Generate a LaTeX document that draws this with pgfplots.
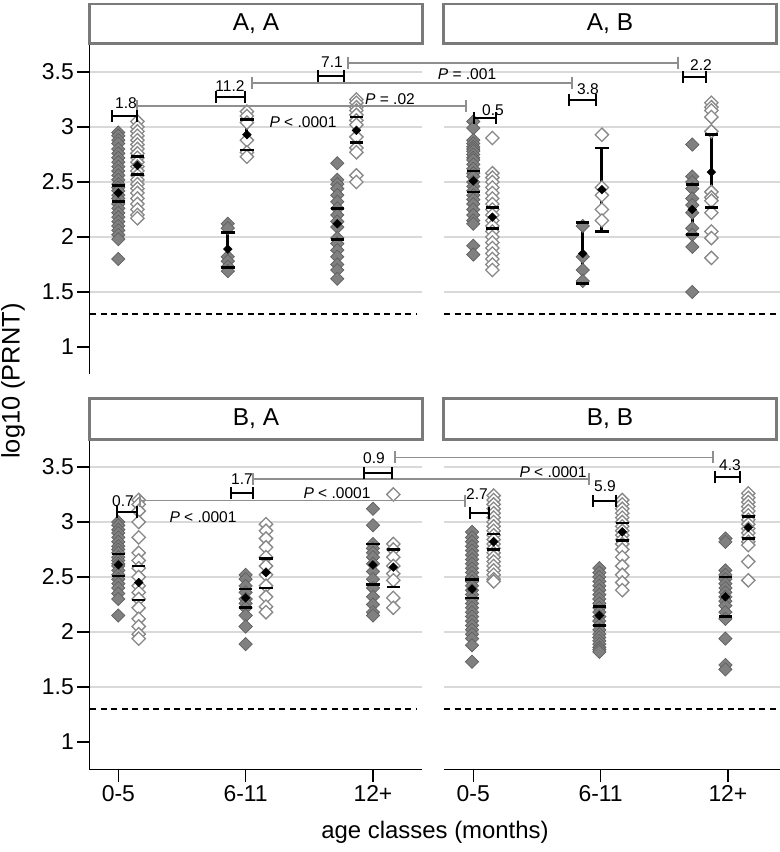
\documentclass[border=0pt]{standalone}
\usepackage{pgfplots}
\usepackage{pgfplotstable}
\pgfplotsset{compat=1.18}
\usepackage{fontspec}
\setmainfont{Liberation Sans}
\definecolor{gfill}{HTML}{808080}
\definecolor{gedge}{HTML}{606060}
\definecolor{oedge}{HTML}{888888}
\definecolor{gridc}{HTML}{D9D9D9}
\definecolor{annc}{HTML}{8F8F8F}
\definecolor{stripc}{HTML}{7A7A7A}
\newcommand{\tkfont}{\fontsize{23}{27}\selectfont}
\newcommand{\anfont}{\fontsize{15.6}{18}\selectfont}
\newcommand{\stfont}{\fontsize{24.5}{28}\selectfont}
% means with 95% CI (x mean lo hi)
\pgfplotstableread[row sep=\\]{
x y lo hi\\
1 2.40 2.32 2.47\\
1.15 2.65 2.57 2.73\\
1.86 1.89 1.72 2.04\\
2.01 2.93 2.79 3.07\\
2.72 2.12 1.98 2.26\\
2.87 2.97 2.86 3.09\\
}\meanAA
\pgfplotstableread[row sep=\\]{
x y lo hi\\
1 2.51 2.41 2.60\\
1.15 2.18 2.08 2.27\\
1.86 1.85 1.58 2.13\\
2.01 2.43 2.05 2.81\\
2.72 2.25 2.02 2.48\\
2.87 2.59 2.27 2.93\\
}\meanAB
\pgfplotstableread[row sep=\\]{
x y lo hi\\
1 2.61 2.51 2.71\\
1.16 2.45 2.29 2.60\\
2 2.31 2.22 2.39\\
2.16 2.54 2.40 2.67\\
3 2.61 2.43 2.80\\
3.16 2.59 2.41 2.75\\
}\meanBA
\pgfplotstableread[row sep=\\]{
x y lo hi\\
0.99 2.39 2.31 2.48\\
1.16 2.82 2.75 2.89\\
1.99 2.15 2.06 2.23\\
2.17 2.91 2.83 2.99\\
2.98 2.32 2.14 2.50\\
3.16 2.95 2.85 3.05\\
}\meanBB
\pgfplotsset{
  panel/.style={scale only axis, anchor=south west, height=330bp,
    ymin=0.75, ymax=3.75,
    axis lines*=left, axis line style={line width=1.4bp, black},
    tick align=outside, major tick length=12bp,
    tick style={line width=1.3bp, black},
    ytick={1.5,2,2.5,3,3.5}, ymajorgrids,
    major grid style={gridc, line width=1.1bp},
    xtick={1,2,3}, xticklabels={0-5,6-11,12+},
    ticklabel style={font=\tkfont},
    /pgf/number format/assume math mode=true,
  },
  leftpanel/.style={panel, width=332.4bp, xmin=0.772, xmax=3.383,
    extra y ticks={1}, extra y tick style={grid=none}},
  rightpanel/.style={panel, width=336bp, xmin=0.77, xmax=3.409,
    yticklabels={}, y axis line style={draw=none}, y tick style={draw=none}},
  toppanel/.style={xtick=\empty, x axis line style={draw=none}},
  gpts/.style={only marks, mark=square*, mark size=4.7bp,
    mark options={rotate=45, fill=gfill, draw=gedge, line width=0.7bp}},
  opts/.style={only marks, mark=square*, mark size=4.7bp,
    mark options={rotate=45, fill=white, draw=oedge, line width=1.3bp}},
  vbar/.style={black, line width=3bp, mark=none, unbounded coords=jump},
  cap/.style={only marks, mark=-, mark size=6.7bp,
    mark options={draw=black, line width=2.7bp}},
  mpts/.style={only marks, mark=square*, mark size=3.1bp,
    mark options={rotate=45, fill=black, draw=black}},
  thr/.style={black, line width=1.8bp, dash pattern=on 6bp off 4.5bp},
  brk/.style={draw=none, mark=none,
    error bars/x dir=both, error bars/x explicit,
    error bars/error bar style={draw=black, line width=1.9bp},
    error bars/error mark options={rotate=90, draw=black, line width=1.9bp, mark size=6bp}},
  gln/.style={draw=none, mark=none,
    error bars/x dir=both, error bars/x explicit,
    error bars/error bar style={draw=annc, line width=1.3bp},
    error bars/error mark options={rotate=90, draw=annc, line width=1.3bp, mark size=6bp}},
}
% caps and black mean diamond
\newcommand{\meanci}[1]{%
  \addplot[cap] table[x=x, y=hi] {#1};
  \addplot[cap] table[x=x, y=lo] {#1};
  \addplot[mpts] table[x=x, y=y] {#1};
}
\begin{document}
\begin{tikzpicture}[x=1bp,y=1bp]
% ---------------- A, A ----------------
\begin{axis}[leftpanel, toppanel, at={(89.3bp,477.5bp)}]
\addplot[gpts] coordinates {(1,2.95)(1,2.92)(1,2.88)(1,2.85)(1,2.80)(1,2.76)(1,2.72)(1,2.68)(1,2.64)(1,2.60)(1,2.56)(1,2.52)(1,2.48)(1,2.45)(1,2.42)(1,2.38)(1,2.35)(1,2.30)(1,2.26)(1,2.22)(1,2.18)(1,2.14)(1,2.10)(1,2.06)(1,2.02)(1,1.98)(1,1.80)};
\addplot[opts] coordinates {(1.15,3.05)(1.15,3.00)(1.15,2.96)(1.15,2.92)(1.15,2.88)(1.15,2.84)(1.15,2.80)(1.15,2.76)(1.15,2.72)(1.15,2.68)(1.15,2.64)(1.15,2.60)(1.15,2.56)(1.15,2.52)(1.15,2.48)(1.15,2.44)(1.15,2.40)(1.15,2.35)(1.15,2.30)(1.15,2.25)(1.15,2.20)(1.15,2.17)};
\addplot[gpts] coordinates {(1.86,2.12)(1.86,2.08)(1.86,1.82)(1.86,1.78)(1.86,1.73)(1.86,1.69)};
\addplot[opts] coordinates {(2.01,3.14)(2.01,3.10)(2.01,3.04)(2.01,2.88)(2.01,2.77)(2.01,2.73)};
\addplot[gpts] coordinates {(2.72,2.67)(2.72,2.52)(2.72,2.48)(2.72,2.44)(2.72,2.38)(2.72,2.32)(2.72,2.26)(2.72,2.20)(2.72,2.14)(2.72,2.09)(2.72,1.99)(2.72,1.94)(2.72,1.88)(2.72,1.82)(2.72,1.75)(2.72,1.70)(2.72,1.62)};
\addplot[opts] coordinates {(2.87,3.25)(2.87,3.22)(2.87,3.18)(2.87,3.15)(2.87,3.11)(2.87,3.06)(2.87,3.02)(2.87,2.91)(2.87,2.81)(2.87,2.77)(2.87,2.56)(2.87,2.50)};
\addplot[vbar] coordinates {(1,2.32)(1,2.47)(1,nan)(1.15,2.57)(1.15,2.73)(1.15,nan)(1.86,1.72)(1.86,2.04)(1.86,nan)(2.01,2.79)(2.01,3.07)(2.01,nan)(2.72,1.98)(2.72,2.26)(2.72,nan)(2.87,2.86)(2.87,3.09)};
\meanci{\meanAA}
\addplot[thr] coordinates {(0.78,1.3)(3.34,1.3)};
\end{axis}
% ---------------- A, B ----------------
\begin{axis}[rightpanel, toppanel, at={(444bp,477.5bp)}]
\addplot[gpts] coordinates {(1,3.05)(1,2.99)(1,2.88)(1,2.85)(1,2.82)(1,2.80)(1,2.78)(1,2.75)(1,2.72)(1,2.70)(1,2.66)(1,2.62)(1,2.58)(1,2.55)(1,2.50)(1,2.46)(1,2.42)(1,2.38)(1,2.34)(1,2.30)(1,2.25)(1,2.20)(1,2.15)(1,2.12)(1,1.92)(1,1.84)};
\addplot[opts] coordinates {(1.15,2.90)(1.15,2.58)(1.15,2.54)(1.15,2.50)(1.15,2.45)(1.15,2.40)(1.15,2.35)(1.15,2.30)(1.15,2.25)(1.15,2.20)(1.15,2.15)(1.15,2.10)(1.15,2.05)(1.15,2.00)(1.15,1.95)(1.15,1.90)(1.15,1.85)(1.15,1.80)(1.15,1.75)(1.15,1.70)};
\addplot[gpts] coordinates {(1.86,2.10)(1.86,1.82)(1.86,1.70)(1.86,1.60)};
\addplot[opts] coordinates {(2.01,2.93)(2.01,2.45)(2.01,2.38)(2.01,2.25)(2.01,2.15)};
\addplot[gpts] coordinates {(2.72,2.84)(2.72,2.55)(2.72,2.50)(2.72,2.44)(2.72,2.35)(2.72,2.29)(2.72,2.22)(2.72,2.08)(2.72,2.02)(2.72,1.91)(2.72,1.50)};
\addplot[opts] coordinates {(2.87,3.22)(2.87,3.18)(2.87,3.15)(2.87,3.09)(2.87,2.96)(2.87,2.41)(2.87,2.36)(2.87,2.33)(2.87,2.22)(2.87,2.05)(2.87,1.99)(2.87,1.81)};
\addplot[vbar] coordinates {(1,2.41)(1,2.60)(1,nan)(1.15,2.08)(1.15,2.27)(1.15,nan)(1.86,1.58)(1.86,2.13)(1.86,nan)(2.01,2.05)(2.01,2.81)(2.01,nan)(2.72,2.02)(2.72,2.48)(2.72,nan)(2.87,2.27)(2.87,2.93)};
\meanci{\meanAB}
\addplot[thr] coordinates {(0.77,1.3)(3.405,1.3)};
\end{axis}
% ---------------- B, A ----------------
\begin{axis}[leftpanel, at={(89.3bp,82.5bp)}]
\addplot[gpts] coordinates {(1,3.00)(1,2.97)(1,2.93)(1,2.90)(1,2.86)(1,2.82)(1,2.78)(1,2.75)(1,2.72)(1,2.68)(1,2.65)(1,2.62)(1,2.60)(1,2.56)(1,2.52)(1,2.48)(1,2.44)(1,2.40)(1,2.35)(1,2.30)(1,2.15)};
\addplot[opts] coordinates {(1.16,3.20)(1.16,3.16)(1.16,3.10)(1.16,3.00)(1.16,2.86)(1.16,2.72)(1.16,2.65)(1.16,2.58)(1.16,2.50)(1.16,2.42)(1.16,2.36)(1.16,2.30)(1.16,2.22)(1.16,2.12)(1.16,2.05)(1.16,1.98)(1.16,1.94)};
\addplot[gpts] coordinates {(2,2.52)(2,2.48)(2,2.42)(2,2.36)(2,2.30)(2,2.26)(2,2.22)(2,2.15)(2,2.05)(2,1.89)};
\addplot[opts] coordinates {(2.16,2.98)(2.16,2.92)(2.16,2.85)(2.16,2.77)(2.16,2.68)(2.16,2.60)(2.16,2.52)(2.16,2.42)(2.16,2.32)(2.16,2.23)(2.16,2.18)};
\addplot[gpts] coordinates {(3,3.12)(3,2.97)(3,2.80)(3,2.76)(3,2.72)(3,2.68)(3,2.62)(3,2.55)(3,2.48)(3,2.40)(3,2.32)(3,2.25)(3,2.18)(3,2.15)};
\addplot[opts] coordinates {(3.16,3.25)(3.16,2.80)(3.16,2.75)(3.16,2.68)(3.16,2.60)(3.16,2.53)(3.16,2.47)(3.16,2.31)(3.16,2.22)};
\addplot[vbar] coordinates {(1,2.51)(1,2.71)(1,nan)(1.16,2.29)(1.16,2.60)(1.16,nan)(2,2.22)(2,2.39)(2,nan)(2.16,2.40)(2.16,2.67)(2.16,nan)(3,2.43)(3,2.80)(3,nan)(3.16,2.41)(3.16,2.75)};
\meanci{\meanBA}
\addplot[thr] coordinates {(0.78,1.3)(3.34,1.3)};
\end{axis}
% ---------------- B, B ----------------
\begin{axis}[rightpanel, at={(444bp,82.5bp)}]
\addplot[gpts] coordinates {(0.99,2.91)(0.99,2.86)(0.99,2.82)(0.99,2.78)(0.99,2.74)(0.99,2.70)(0.99,2.66)(0.99,2.62)(0.99,2.58)(0.99,2.54)(0.99,2.50)(0.99,2.46)(0.99,2.42)(0.99,2.38)(0.99,2.34)(0.99,2.30)(0.99,2.26)(0.99,2.22)(0.99,2.18)(0.99,2.14)(0.99,2.10)(0.99,2.06)(0.99,2.02)(0.99,1.98)(0.99,1.94)(0.99,1.88)(0.99,1.73)};
\addplot[opts] coordinates {(1.16,3.24)(1.16,3.20)(1.16,3.16)(1.16,3.12)(1.16,3.08)(1.16,3.04)(1.16,3.00)(1.16,2.96)(1.16,2.92)(1.16,2.88)(1.16,2.84)(1.16,2.80)(1.16,2.76)(1.16,2.72)(1.16,2.68)(1.16,2.64)(1.16,2.60)(1.16,2.56)(1.16,2.52)(1.16,2.48)(1.16,2.46)};
\addplot[gpts] coordinates {(1.99,2.58)(1.99,2.54)(1.99,2.50)(1.99,2.46)(1.99,2.42)(1.99,2.38)(1.99,2.34)(1.99,2.30)(1.99,2.26)(1.99,2.22)(1.99,2.18)(1.99,2.14)(1.99,2.10)(1.99,2.06)(1.99,2.02)(1.99,1.98)(1.99,1.95)(1.99,1.92)(1.99,1.89)(1.99,1.86)(1.99,1.84)(1.99,1.82)};
\addplot[opts] coordinates {(2.17,3.20)(2.17,3.16)(2.17,3.12)(2.17,3.08)(2.17,3.04)(2.17,3.00)(2.17,2.96)(2.17,2.92)(2.17,2.88)(2.17,2.84)(2.17,2.80)(2.17,2.75)(2.17,2.68)(2.17,2.60)(2.17,2.52)(2.17,2.45)(2.17,2.38)};
\addplot[gpts] coordinates {(2.98,2.85)(2.98,2.82)(2.98,2.56)(2.98,2.52)(2.98,2.48)(2.98,2.44)(2.98,2.40)(2.98,2.36)(2.98,2.32)(2.98,2.28)(2.98,2.24)(2.98,2.18)(2.98,2.12)(2.98,1.94)(2.98,1.70)(2.98,1.66)};
\addplot[opts] coordinates {(3.16,3.26)(3.16,3.22)(3.16,3.18)(3.16,3.14)(3.16,3.10)(3.16,3.06)(3.16,3.02)(3.16,2.98)(3.16,2.94)(3.16,2.90)(3.16,2.86)(3.16,2.82)(3.16,2.79)(3.16,2.64)(3.16,2.47)};
\addplot[vbar] coordinates {(0.99,2.31)(0.99,2.48)(0.99,nan)(1.16,2.75)(1.16,2.89)(1.16,nan)(1.99,2.06)(1.99,2.23)(1.99,nan)(2.17,2.83)(2.17,2.99)(2.17,nan)(2.98,2.14)(2.98,2.50)(2.98,nan)(3.16,2.85)(3.16,3.05)};
\meanci{\meanBB}
\addplot[thr] coordinates {(0.77,1.3)(3.405,1.3)};
\end{axis}
% ---------------- overlay (image pixel coordinates) ----------------
\begin{axis}[at={(0bp,0bp)}, anchor=south west, scale only axis,
  width=780bp, height=852bp, xmin=0, xmax=780, ymin=0, ymax=852,
  y dir=reverse, hide axis, clip=false]
% strip boxes
\draw[stripc, line width=2.7bp, fill=white] (axis cs:89.3,4) rectangle (axis cs:422.7,43.3);
\draw[stripc, line width=2.7bp, fill=white] (axis cs:443.3,4) rectangle (axis cs:776.7,43.3);
\draw[stripc, line width=2.7bp, fill=white] (axis cs:89.3,398.3) rectangle (axis cs:422.7,439.3);
\draw[stripc, line width=2.7bp, fill=white] (axis cs:443.3,398.3) rectangle (axis cs:776.7,439.3);
\node[font=\stfont] at (axis cs:256,24) {A, A};
\node[font=\stfont] at (axis cs:610,24) {A, B};
\node[font=\stfont] at (axis cs:256,419) {B, A};
\node[font=\stfont] at (axis cs:610,419) {B, B};
% long grey comparison lines
\addplot[gln] coordinates {(513,63) +- (165,0)};
\addplot[gln] coordinates {(412,83) +- (160,0)};
\addplot[gln] coordinates {(301.5,106) +- (164.5,0)};
\addplot[gln] coordinates {(554,457.3) +- (159,0)};
\addplot[gln] coordinates {(421,479) +- (168,0)};
\addplot[gln] coordinates {(302.5,500.7) +- (162.5,0)};
% black brackets
\addplot[brk] coordinates {(124.5,116) +- (12.5,0)};
\addplot[brk] coordinates {(230.5,97) +- (14.5,0)};
\addplot[brk] coordinates {(331,76) +- (13,0)};
\addplot[brk] coordinates {(485,118) +- (11,0)};
\addplot[brk] coordinates {(582.5,100) +- (13.5,0)};
\addplot[brk] coordinates {(694.5,77) +- (11.5,0)};
\addplot[brk] coordinates {(127,511.7) +- (10,0)};
\addplot[brk] coordinates {(242,492.7) +- (11,0)};
\addplot[brk] coordinates {(378,473.3) +- (14,0)};
\addplot[brk] coordinates {(479.7,512.7) +- (9.7,0)};
\addplot[brk] coordinates {(604.5,500.7) +- (11.2,0)};
\addplot[brk] coordinates {(727.5,477.3) +- (12.5,0)};
% labels
\node[font=\anfont, inner sep=0] at (axis cs:126,103.5) {1.8};
\node[font=\anfont, inner sep=0] at (axis cs:230,86.5) {11.2};
\node[font=\anfont, inner sep=0] at (axis cs:332,62) {7.1};
\node[font=\anfont, inner sep=0] at (axis cs:493,110) {0.5};
\node[font=\anfont, inner sep=0] at (axis cs:588,89) {3.8};
\node[font=\anfont, inner sep=0] at (axis cs:701,65) {2.2};
\node[font=\anfont, inner sep=0] at (axis cs:303,122) {\textit{P} < .0001};
\node[font=\anfont, inner sep=0] at (axis cs:390,99) {\textit{P} = .02};
\node[font=\anfont, inner sep=0] at (axis cs:467,74) {\textit{P} = .001};
\node[font=\anfont, inner sep=0] at (axis cs:123,501) {0.7};
\node[font=\anfont, inner sep=0] at (axis cs:242,479) {1.7};
\node[font=\anfont, inner sep=0] at (axis cs:374,458) {0.9};
\node[font=\anfont, inner sep=0] at (axis cs:477,494) {2.7};
\node[font=\anfont, inner sep=0] at (axis cs:605,486) {5.9};
\node[font=\anfont, inner sep=0] at (axis cs:730,465) {4.3};
\node[font=\anfont, inner sep=0] at (axis cs:203,517) {\textit{P} < .0001};
\node[font=\anfont, inner sep=0] at (axis cs:337,493) {\textit{P} < .0001};
\node[font=\anfont, inner sep=0] at (axis cs:553,472) {\textit{P} < .0001};
% axis titles
\node[font=\fontsize{25.5}{30}\selectfont, rotate=90] at (axis cs:13,381) {log10 (PRNT)};
\node[font=\fontsize{24}{28}\selectfont] at (axis cs:435,832) {age classes (months)};
\end{axis}
\pgfresetboundingbox
\useasboundingbox (0,0) rectangle (780,852);
\end{tikzpicture}
\end{document}
